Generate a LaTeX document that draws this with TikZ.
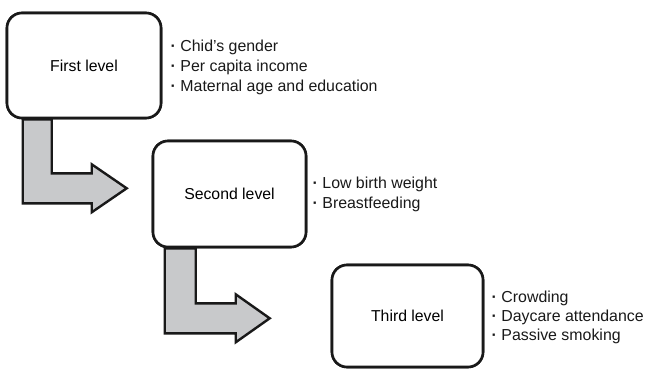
\documentclass[tikz,border=0pt]{standalone}
\usepackage{fontspec}
\setmainfont{Liberation Sans}
\usetikzlibrary{calc}
\definecolor{arrowgray}{RGB}{200,201,203}
\definecolor{inkline}{RGB}{25,25,25}
\newcommand{\itemdot}{{\bfseries ·}\ }
\begin{document}
\begin{tikzpicture}[x=1pt,y=-1pt,
  levelbox/.style={draw=inkline,line width=2.6pt,rounded corners=15pt,fill=white,
    minimum width=#1,inner sep=0pt,font=\fontsize{15.8}{19}\selectfont},
  bigarrow/.style={draw=inkline,line width=2.4pt,fill=arrowgray,line join=miter},
  item/.style={anchor=base west,inner sep=0pt,font=\fontsize{15.9}{19}\selectfont,text=inkline}]
\useasboundingbox (0,0) rectangle (647,369);
% boxes (positions)
\node[levelbox=154pt,minimum height=105pt] (b1) at (84,65.5) {};
\node[levelbox=153pt,minimum height=106pt] (b2) at (229.5,194) {};
\node[levelbox=151pt,minimum height=102pt] (b3) at (407.5,316) {};
% arrows drawn from box bottoms
\draw[bigarrow] ($(b1.south west)+(17,0)$) -- ++(0,84) -- ++(69,0) -- ++(0,9)
  -- ++(35,-24) -- ++(-35,-24) -- ++(0,9) -- ++(-40,0) -- ++(0,-54) -- cycle;
\draw[bigarrow] ($(b2.south west)+(13,0)$) -- ++(0,85) -- ++(71,0) -- ++(0,9)
  -- ++(34,-24) -- ++(-34,-24) -- ++(0,9) -- ++(-40,0) -- ++(0,-55) -- cycle;
% redraw boxes on top of arrows
\node[levelbox=154pt,minimum height=105pt] (b1) at (84,65.5) {First level};
\node[levelbox=153pt,minimum height=106pt] (b2) at (229.5,194) {Second level};
\node[levelbox=151pt,minimum height=102pt] (b3) at (407.5,316) {Third level};
% lists
\node[item] (l1a) at (170.5,52) {\itemdot Chid’s gender};
\node[item] (l1b) at (170.5,71.5) {\itemdot Per capita income};
\node[item] (l1c) at (170.5,91) {\itemdot Maternal age and education};
\node[item] (l2a) at (312.5,188.5) {\itemdot Low birth weight};
\node[item] (l2b) at (312.5,208) {\itemdot Breastfeeding};
\node[item] (l3a) at (491.5,302.5) {\itemdot Crowding};
\node[item] (l3b) at (491.5,321.5) {\itemdot Daycare attendance};
\node[item] (l3c) at (491.5,340.5) {\itemdot Passive smoking};
\end{tikzpicture}
\end{document}
